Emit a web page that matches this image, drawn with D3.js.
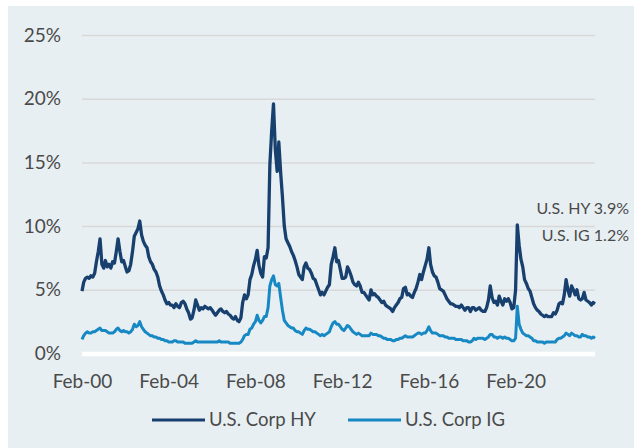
<!DOCTYPE html>
<html>
<head>
<meta charset="utf-8">
<script src="https://cdn.jsdelivr.net/npm/d3@7"></script>
<style>
  body { margin: 0; background: #fff; }
  text { font-family: Lato, "Open Sans", sans-serif; fill: #4a4a4a; }
</style>
</head>
<body>
<svg id="chart" width="634" height="448"></svg>
<script>
// monthly spreads (%), first point = Feb 2000, one row = Feb..Jan
const startDate = new Date(2000, 1, 1);

const hy = [
  4.9, 5.6, 5.9, 6.0, 5.9, 6.1, 6.0, 6.3, 7.2, 8.0, 9.0, 7.0,
  6.7, 7.3, 6.8, 7.0, 6.7, 7.2, 7.1, 8.0, 9.0, 8.0, 7.2, 7.3,
  6.8, 6.4, 6.5, 7.0, 8.0, 9.2, 9.5, 9.8, 10.4, 9.3, 8.8, 8.5,
  8.3, 7.6, 7.2, 7.0, 6.6, 6.4, 6.0, 5.3, 4.9, 4.6, 4.2, 3.9,
  4.0, 3.8, 3.8, 3.6, 3.9, 3.7, 3.6, 4.0, 4.1, 3.9, 3.5, 3.2,
  2.7, 2.8, 3.4, 4.2, 3.8, 3.4, 3.6, 3.5, 3.7, 3.6, 3.5, 3.6,
  3.4, 3.2, 3.0, 3.2, 3.4, 3.5, 3.3, 3.2, 3.3, 3.1, 3.0, 2.8,
  2.7, 2.9, 2.6, 2.5, 2.8, 4.0, 4.6, 4.3, 4.6, 5.8, 6.2, 6.9,
  7.4, 8.1, 6.9, 6.3, 6.0, 7.6, 7.5, 8.3, 14.8, 17.5, 19.6, 16.0,
  14.3, 16.6, 14.2, 12.3, 10.0, 9.0, 8.7, 8.4, 8.0, 7.7, 7.3, 6.8,
  6.2, 6.0, 5.8, 6.8, 7.1, 6.7, 6.6, 6.3, 5.9, 5.8, 5.4, 5.0,
  4.6, 4.8, 4.6, 4.9, 5.2, 5.4, 7.0, 7.6, 8.3, 7.2, 7.3, 6.6,
  5.9, 5.9, 6.0, 6.8, 6.5, 6.1, 5.6, 5.4, 5.3, 5.6, 5.3, 4.8,
  4.8, 4.6, 4.4, 4.2, 5.0, 4.6, 4.7, 4.5, 4.4, 4.2, 4.0, 4.1,
  3.8, 3.7, 3.6, 3.5, 3.3, 3.6, 3.8, 4.0, 4.3, 4.4, 5.1, 5.2,
  4.6, 4.7, 4.5, 4.4, 4.8, 5.1, 5.6, 6.2, 5.8, 6.4, 6.9, 7.4,
  8.3, 7.0, 6.4, 6.1, 6.0, 5.6, 5.1, 5.0, 4.9, 4.6, 4.3, 4.1,
  3.9, 3.9, 3.8, 3.7, 3.7, 3.6, 3.8, 3.6, 3.4, 3.6, 3.6, 3.3,
  3.6, 3.6, 3.4, 3.5, 3.6, 3.4, 3.3, 3.3, 3.6, 4.2, 5.3, 4.4,
  4.0, 4.1, 3.8, 4.5, 4.1, 3.8, 4.3, 4.1, 4.3, 4.0, 3.5, 3.6,
  5.0, 10.1, 8.5, 7.4, 6.8, 5.8, 5.5, 5.1, 4.9, 4.4, 3.9, 3.6,
  3.4, 3.3, 3.1, 3.0, 2.9, 3.0, 2.9, 2.9, 2.9, 3.2, 3.1, 3.4,
  3.9, 4.0, 3.9, 4.6, 5.8, 5.0, 4.5, 5.3, 5.0, 4.6, 5.0, 4.3,
  4.2, 4.3, 4.8, 4.2, 4.1, 4.0, 3.8, 4.0, 3.9
];

const ig = [
  1.1, 1.4, 1.6, 1.7, 1.6, 1.6, 1.7, 1.7, 1.8, 1.9, 2.0, 1.8,
  1.8, 1.8, 1.7, 1.6, 1.6, 1.6, 1.7, 1.9, 2.0, 1.8, 1.7, 1.8,
  1.7, 1.7, 1.6, 1.7, 1.9, 2.3, 2.1, 2.2, 2.5, 2.1, 1.9, 1.7,
  1.6, 1.5, 1.4, 1.4, 1.3, 1.3, 1.2, 1.2, 1.1, 1.1, 1.0, 1.0,
  0.9, 0.9, 0.9, 1.0, 1.0, 0.9, 0.9, 0.9, 0.9, 0.8, 0.8, 0.8,
  0.8, 0.8, 0.9, 1.0, 0.9, 0.9, 0.9, 0.9, 0.9, 0.9, 0.9, 0.9,
  0.9, 0.9, 0.9, 0.9, 1.0, 0.9, 0.9, 0.9, 0.9, 0.9, 0.8, 0.8,
  0.8, 0.8, 0.8, 0.8, 0.9, 1.1, 1.4, 1.5, 1.5, 1.9, 2.0, 2.3,
  2.5, 3.0, 2.6, 2.4, 2.6, 2.9, 2.9, 3.6, 5.3, 5.8, 6.1, 5.4,
  5.3, 5.5, 4.4, 3.4, 2.6, 2.4, 2.2, 2.1, 2.0, 2.0, 1.8, 1.7,
  1.7, 1.6, 1.5, 1.8, 2.0, 1.9, 1.9, 1.8, 1.7, 1.7, 1.6, 1.5,
  1.4, 1.5, 1.4, 1.5, 1.6, 1.7, 2.1, 2.4, 2.5, 2.3, 2.3, 2.1,
  1.9, 1.8, 2.0, 2.2, 2.1, 1.9, 1.7, 1.6, 1.5, 1.6, 1.5, 1.4,
  1.4, 1.4, 1.4, 1.4, 1.6, 1.5, 1.5, 1.5, 1.4, 1.4, 1.3, 1.2,
  1.2, 1.1, 1.1, 1.1, 1.0, 1.0, 1.1, 1.1, 1.2, 1.2, 1.3, 1.4,
  1.3, 1.3, 1.3, 1.3, 1.4, 1.5, 1.6, 1.6, 1.5, 1.6, 1.6, 1.8,
  2.1, 1.8, 1.6, 1.6, 1.6, 1.5, 1.4, 1.4, 1.4, 1.3, 1.3, 1.2,
  1.2, 1.2, 1.2, 1.1, 1.1, 1.1, 1.1, 1.0, 1.0, 1.0, 0.9, 0.9,
  1.0, 1.2, 1.1, 1.2, 1.2, 1.2, 1.2, 1.1, 1.2, 1.3, 1.5, 1.5,
  1.3, 1.3, 1.2, 1.3, 1.3, 1.2, 1.3, 1.2, 1.2, 1.1, 1.0, 1.0,
  1.2, 3.7, 2.3, 1.9, 1.6, 1.5, 1.4, 1.4, 1.3, 1.2, 1.0, 1.0,
  0.9, 0.9, 0.9, 0.9, 0.8, 0.9, 0.9, 0.9, 0.9, 0.9, 0.9, 1.1,
  1.2, 1.2, 1.3, 1.4, 1.6, 1.5, 1.4, 1.6, 1.5, 1.4, 1.4, 1.3,
  1.3, 1.5, 1.4, 1.4, 1.3, 1.3, 1.2, 1.3, 1.2
];

const yTicks = [0, 5, 10, 15, 20, 25];
const xTickYears = [2000, 2004, 2008, 2012, 2016, 2020];
const seriesNames = ["U.S. Corp HY", "U.S. Corp IG"];
const seriesColors = ["#17406f", "#1688c4"];
const endLabels = ["U.S. HY 3.9%", "U.S. IG 1.2%"];

const svg = d3.select('#chart');
svg.append('rect').attr('x', 8).attr('y', 6).attr('width', 626).attr('height', 442)
  .attr('fill', '#e8eff2');

const dates = hy.map((_, i) => d3.timeMonth.offset(startDate, i));
const x = d3.scaleTime().domain([dates[0], dates[dates.length - 1]]).range([82, 595]);
const y = d3.scaleLinear().domain([0, 25]).range([353.5, 35]);

// grid + y labels
const yAxis = svg.append('g').attr('transform', 'translate(82,0)')
  .call(d3.axisLeft(y).tickValues(yTicks).tickSize(-513).tickPadding(21)
    .tickFormat(d => d + '%'));
yAxis.select('.domain').remove();
yAxis.selectAll('line').attr('stroke', '#d8d8d8').attr('stroke-width', 1.5);
yAxis.selectAll('.tick').filter(d => d === 0).select('line')
  .attr('stroke', '#ffffff').attr('stroke-width', 4.5);
yAxis.selectAll('text').style('font-size', '19px').style('font-family', 'Lato, sans-serif')
  .attr('fill', '#4a4a4a');

// x labels
const xAxis = svg.append('g').attr('transform', 'translate(0,356)')
  .call(d3.axisBottom(x).tickValues(xTickYears.map(yr => new Date(yr, 1, 1)))
    .tickSize(0).tickPadding(19).tickFormat(d3.timeFormat('%b-%y')));
xAxis.select('.domain').remove();
xAxis.selectAll('text').style('font-size', '19px').style('font-family', 'Lato, sans-serif')
  .attr('fill', '#4a4a4a');

// lines
const line = d3.line().x((d, i) => x(dates[i])).y(d => y(d)).curve(d3.curveLinear);
svg.append('path').datum(ig).attr('d', line).attr('fill', 'none')
  .attr('stroke', seriesColors[1]).attr('stroke-width', 3).attr('stroke-linejoin', 'round');
svg.append('path').datum(hy).attr('d', line).attr('fill', 'none')
  .attr('stroke', seriesColors[0]).attr('stroke-width', 3.3).attr('stroke-linejoin', 'round');

// end labels
svg.selectAll('.endlbl').data(endLabels).enter().append('text')
  .attr('class', 'endlbl')
  .attr('x', 629).attr('y', (d, i) => 214 + i * 27)
  .attr('text-anchor', 'end').style('font-size', '16px')
  .text(d => d);

// legend
const legX = [152, 348];
const leg = svg.selectAll('.leg').data(seriesNames).enter().append('g')
  .attr('class', 'leg').attr('transform', (d, i) => `translate(${legX[i]},420)`);
leg.append('line').attr('x1', 0).attr('x2', 53).attr('y1', 0).attr('y2', 0)
  .attr('stroke', (d, i) => seriesColors[i]).attr('stroke-width', 3);
leg.append('text').attr('x', 57).attr('dy', '0.35em').style('font-size', '18.5px')
  .text(d => d);
</script>
</body>
</html>
